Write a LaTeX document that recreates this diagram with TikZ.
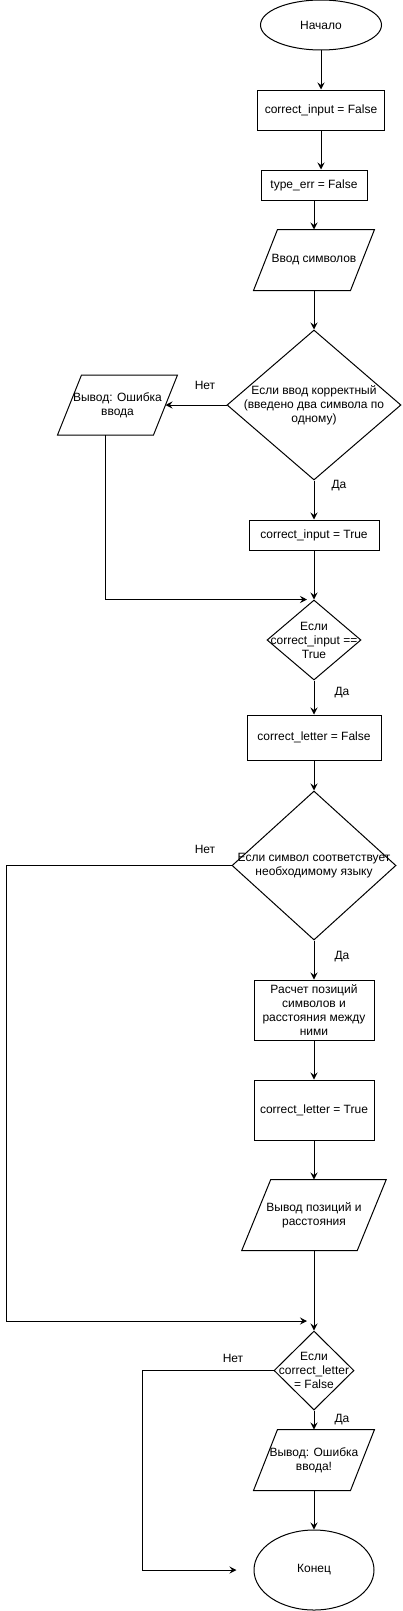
\documentclass[tikz,border=0pt]{standalone}
\usepackage{fontspec}
\setmainfont{Liberation Sans}
\usetikzlibrary{shapes.geometric, arrows.meta}

\begin{document}
\begin{tikzpicture}[x=1pt, y=-1pt, line width=1pt,
	font=\fontsize{12}{14}\selectfont,
	term/.style={draw, ellipse},
	proc/.style={draw, rectangle, align=center, inner sep=0pt},
	io/.style={rectangle, align=center, inner sep=0pt},
	decision/.style={draw, diamond, inner sep=0pt},
	arr/.style={-{Stealth[length=7pt, width=7pt, inset=2.5pt]}}]
		
		\useasboundingbox (0,0) rectangle (403,1611);
		
		%
		\node[term, minimum width=121pt, minimum height=50pt] (start) at (321,25) {Начало};
		\node[proc, minimum width=127pt, minimum height=40pt] (ci0) at (321,110) {correct\_input = False};
		\node[proc, minimum width=106pt, minimum height=30pt] (te0) at (314,185) {type\_err = False};
		\node[io, minimum width=96pt, minimum height=60pt] (inp) at (314,260) {Ввод символов};
		\node[decision, minimum width=174pt, minimum height=150pt,
			label={[align=center]center:{Если ввод корректный\\(введено два символа по\\одному)}}] (chk1) at (314,405) {};
		\node[io, minimum width=95pt, minimum height=59pt] (err1) at (117.5,405) {Вывод: Ошибка\\ввода};
		\node[proc, minimum width=130pt, minimum height=30pt] (ci1) at (314,535) {correct\_input = True};
		\node[decision, minimum width=94pt, minimum height=80pt,
			label={[align=center]center:{Если\\correct\_input ==\\True}}] (chk2) at (314,640) {};
		\node[proc, minimum width=134pt, minimum height=45pt] (cl0) at (314,737.5) {correct\_letter = False};
		\node[decision, minimum width=164pt, minimum height=149pt,
			label={[align=center]center:{Если символ соответствует\\необходимому языку}}] (chk3) at (314,865.5) {};
		\node[proc, minimum width=120pt, minimum height=60pt] (calc) at (314,1010) {Расчет позиций\\символов и\\расстояния между\\ними};
		\node[proc, minimum width=120pt, minimum height=60pt] (cl1) at (314,1110) {correct\_letter = True};
		\node[io, minimum width=114.5pt, minimum height=70pt] (outp) at (314,1215) {Вывод позиций и\\расстояния};
		\node[decision, minimum width=80pt, minimum height=79pt,
			label={[align=center]center:{Если\\correct\_letter\\= False}}] (chk4) at (314,1370.5) {};
		\node[io, minimum width=96pt, minimum height=60pt] (err2) at (314,1460) {Вывод: Ошибка\\ввода!};
		\node[term, minimum width=120pt, minimum height=80pt] (stop) at (314,1570) {Конец};
		
		%
		\foreach \n/\s in {inp/12, err1/12, outp/14.5, err2/12} {
			\draw ([xshift=\s pt]\n.north west) -- ([xshift=\s pt]\n.north east)
				-- ([xshift=-\s pt]\n.south east) -- ([xshift=-\s pt]\n.south west) -- cycle;
		}
		
		%
		\coordinate[xshift=-12pt] (e1) at (err1.south);
		\coordinate[xshift=-7pt] (m1) at (chk2.north);
		\coordinate (m2) at (307,1321);
		\coordinate[xshift=-17pt] (m3) at (stop.west);
		
		\draw[arr] (start) -- (ci0);
		\draw[arr] (ci0) -- (ci0 |- te0.north);
		\draw[arr] (te0) -- (inp);
		\draw[arr] (inp) -- (chk1);
		\draw[arr] (chk1) -- (err1);
		\draw[arr] (chk1) -- (ci1);
		\draw[arr] (ci1) -- (chk2);
		\draw[arr] (e1) |- (m1);
		\draw[arr] (chk2) -- (cl0);
		\draw[arr] (cl0) -- (chk3);
		\draw[arr] (chk3) -- (calc);
		\draw[arr] (calc) -- (cl1);
		\draw[arr] (cl1) -- (outp);
		\draw[arr] (outp) -- (chk4);
		\draw[arr] (chk3.west) -- ++(-225,0) |- (m2);
		\draw[arr] (chk4) -- (err2);
		\draw[arr] (err2) -- (stop);
		\draw[arr] (chk4.west) -- ++(-131,0) |- (m3);
		
		%
		\foreach \i/\x/\y/\t in {1/205/385/Нет, 2/339/486/Да, 3/342/693/Да, 4/205/849/Нет,
			5/342/957/Да, 6/233/1358/Нет, 7/342/1420/Да} {
			\node (lbl\i) at (\x,\y) {\t};
		}
		
	\end{tikzpicture}
\end{document}
